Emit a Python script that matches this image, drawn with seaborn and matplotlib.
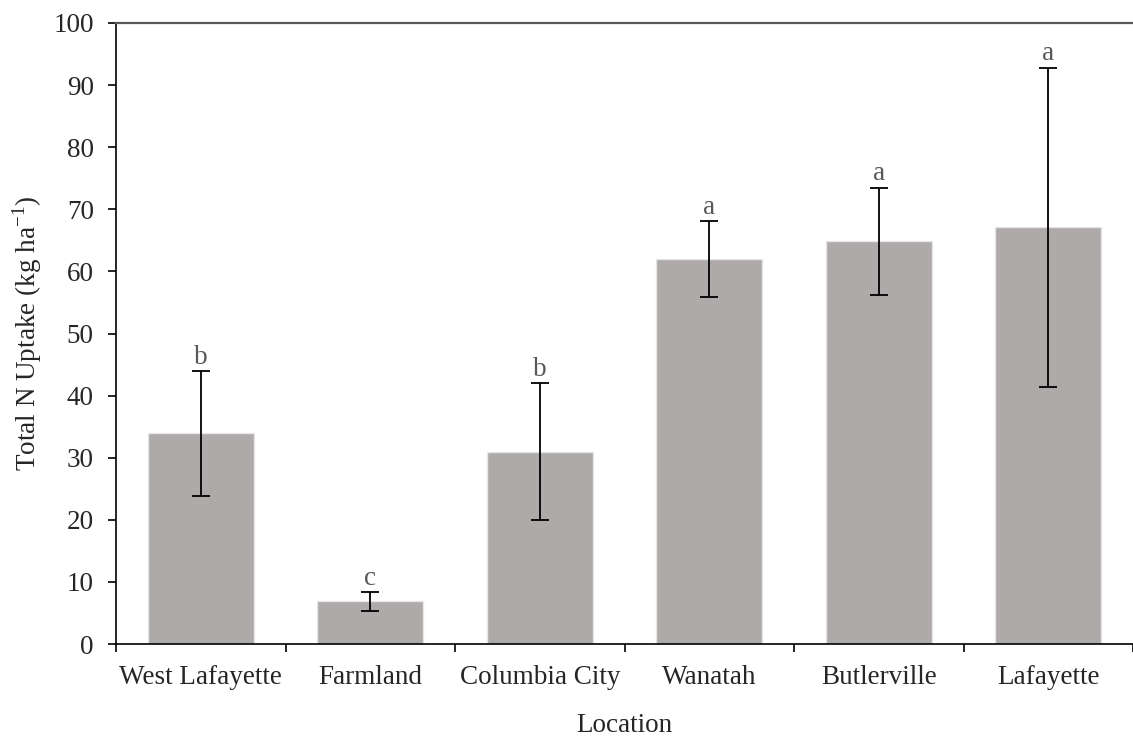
import matplotlib
matplotlib.use("Agg")
import matplotlib.pyplot as plt
import seaborn as sns
import pandas as pd
import numpy as np

locations = ["West Lafayette", "Farmland", "Columbia City", "Wanatah", "Butlerville", "Lafayette"]
uptake = [33.9, 6.85, 30.95, 62.0, 64.85, 67.1]
errors = [10.0, 1.5, 11.0, 6.1, 8.6, 25.7]
letters = ["b", "c", "b", "a", "a", "a"]

sns.set_theme(style="white")
plt.rcParams['font.family'] = ['Liberation Serif', 'DejaVu Serif']
plt.rcParams['mathtext.fontset'] = 'custom'
plt.rcParams['mathtext.rm'] = 'Liberation Serif'

FS = 19.5

df = pd.DataFrame({"Location": locations, "Uptake": uptake})

fig = plt.figure(figsize=(11.33, 7.40), dpi=100)
ax = fig.add_axes([116/1133, (740-644)/740, (1133-116)/1133, (644-23)/740])

sns.barplot(data=df, x="Location", y="Uptake", color="#ADAAA9", saturation=1,
            width=0.625, edgecolor="#E6E6E6", linewidth=1, ax=ax, errorbar=None)

xs = np.arange(len(locations))
ax.errorbar(xs, uptake, yerr=errors, fmt="none", ecolor="black", elinewidth=1.3,
            capsize=6.5, capthick=1.3)

for x, u, e, l in zip(xs, uptake, errors, letters):
    ax.annotate(l, (x, u + e), xytext=(0, 1), textcoords="offset points",
                ha="center", va="bottom", fontsize=FS, color="#595959")

ax.set_ylim(0, 100)
ax.set_xlim(-0.5, 5.5 - 9/171)
ax.set_yticks(range(0, 101, 10))

ax.spines['right'].set_visible(False)
ax.spines['top'].set_color('#595959')
ax.spines['top'].set_linewidth(1.6)
for s in ['left', 'bottom']:
    ax.spines[s].set_color('black')
    ax.spines[s].set_linewidth(1.2)

ax.tick_params(axis='y', which='major', direction='out', length=6, width=1.2,
               color='black', labelsize=FS, pad=10, left=True)
ax.tick_params(axis='x', which='major', length=0, labelsize=FS, pad=15)
ax.set_xticks(np.arange(-0.5, 6.0, 1.0), minor=True)
ax.tick_params(axis='x', which='minor', direction='out', length=6, width=1.2,
               color='black', bottom=True)

ax.set_xlabel("Location", fontsize=FS, labelpad=17)
ax.set_ylabel(r"Total N Uptake (kg ha$^{\mathregular{-1}}$)", fontsize=FS, labelpad=7)

fig.savefig("out.png", dpi=100)
